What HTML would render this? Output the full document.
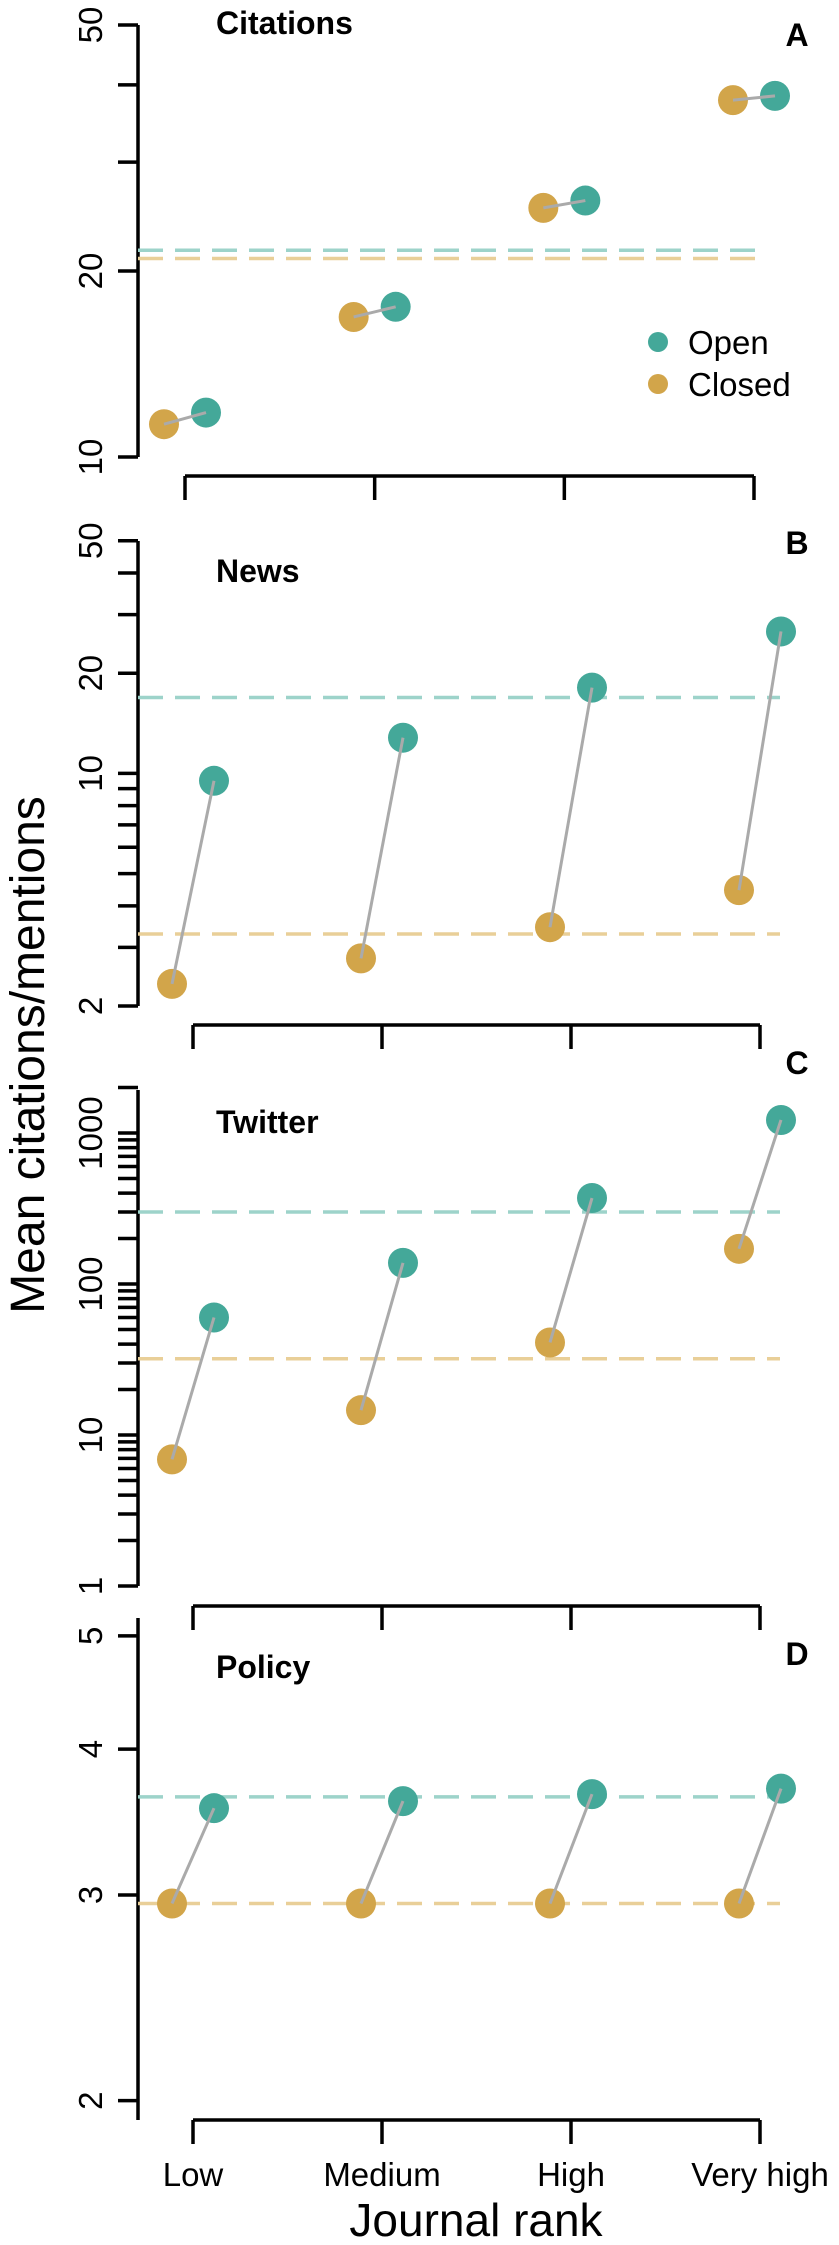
<!DOCTYPE html>
<html><head><meta charset="utf-8"><style>
html,body{margin:0;padding:0;background:#fff}
svg{display:block}
text{font-family:"Liberation Sans",Arial,sans-serif}
</style></head><body>
<svg id="chart" width="839" height="2245" viewBox="0 0 839 2245" xmlns="http://www.w3.org/2000/svg">
<text x="0" y="0" transform="translate(44,1055) rotate(-90)" text-anchor="middle" font-size="48">Mean citations/mentions</text>
<text x="476" y="2236" text-anchor="middle" font-size="46">Journal rank</text>
<g>
<circle cx="658" cy="342" r="10" fill="#44a899"/>
<text x="688" y="354" font-size="33">Open</text>
<circle cx="658" cy="384" r="10" fill="#d2a54a"/>
<text x="688" y="396" font-size="33">Closed</text>
</g>
</svg>
<script>
const categories = ["Low", "Medium", "High", "Very high"];
const citationsOpen = [11.8, 17.5, 26.0, 38.4];
const citationsClosed = [11.3, 16.85, 25.3, 37.8];
const citationsMean = [21.6, 20.95];
const newsOpen = [9.5, 12.8, 18.1, 26.7];
const newsClosed = [2.33, 2.78, 3.45, 4.46];
const newsMean = [16.9, 3.29];
const twitterOpen = [60, 138, 371, 1220];
const twitterClosed = [6.9, 14.6, 41, 171];
const twitterMean = [300, 32];
const policyOpen = [3.56, 3.61, 3.66, 3.70];
const policyClosed = [2.95, 2.95, 2.95, 2.95];
const policyMean = [3.64, 2.95];
const citationsTicks = [10, 20, 30, 40, 50];
const citationsLabels = [10, 20, 50];
const newsTicks = [2, 3, 4, 5, 6, 7, 8, 9, 10, 20, 30, 40, 50];
const newsLabels = [2, 10, 20, 50];
const twitterTicks = [1,2,3,4,5,6,7,8,9,10,20,30,40,50,60,70,80,90,100,200,300,400,500,600,700,800,900,1000,2000];
const twitterLabels = [1, 10, 100, 1000];
const policyTicks = [2, 3, 4, 5];
const policyLabels = [2, 3, 4, 5];

const NS = "http://www.w3.org/2000/svg";
const svg = document.getElementById("chart");
function mk(tag, attrs, parent) {
  const e = document.createElementNS(NS, tag);
  for (const k in attrs) e.setAttribute(k, attrs[k]);
  (parent || svg).appendChild(e);
  return e;
}
const panels = [
  {key:"citations", title:"Citations", letter:"A", open:citationsOpen, closed:citationsClosed, mean:citationsMean, ticks:citationsTicks, labels:citationsLabels,
   refV:10, refY:457, k:618, yTop:25, yBot:457, axX0:185, axX1:754, axY:476, titleY:34, letterY:46, dashEnd:765},
  {key:"news", title:"News", letter:"B", open:newsOpen, closed:newsClosed, mean:newsMean, ticks:newsTicks, labels:newsLabels,
   refV:2, refY:1006, k:332.8, yTop:541, yBot:1006, axX0:193, axX1:760, axY:1025, titleY:582, letterY:554, dashEnd:780},
  {key:"twitter", title:"Twitter", letter:"C", open:twitterOpen, closed:twitterClosed, mean:twitterMean, ticks:twitterTicks, labels:twitterLabels,
   refV:1, refY:1586, k:151, yTop:1090, yBot:1586, axX0:193, axX1:760, axY:1606, titleY:1133, letterY:1074, dashEnd:780},
  {key:"policy", title:"Policy", letter:"D", open:policyOpen, closed:policyClosed, mean:policyMean, ticks:policyTicks, labels:policyLabels,
   refV:3, refY:1895, k:1168, yTop:1618, yBot:2120, axX0:193, axX1:760, axY:2120, titleY:1678, letterY:1665, dashEnd:780}
];
panels.forEach(p => {
  const g = mk("g", {});
  
  
  const y = v => p.refY - Math.log10(v / p.refV) * p.k;
  const step = (p.axX1 - p.axX0) / (categories.length - 1);
  const x = i => p.axX0 + i * step;
  const ya = mk("line", {x1:138, x2:138, y1:p.yTop, y2:p.yBot, stroke:"#000", "stroke-width":3.5}, g);
  
  
  p.ticks.forEach(t => {
    const tl = mk("line", {x1:118, x2:138, y1:y(t), y2:y(t), stroke:"#000", "stroke-width":3.5}, g);
    
    
  });
  p.labels.forEach(t => {
    const tx = mk("text", {x:0, y:0, transform:"translate(102," + y(t) + ") rotate(-90)", "text-anchor":"middle", "font-size":33}, g);
    tx.textContent = t;
    
    
  });
  const xa = mk("line", {x1:p.axX0, x2:p.axX1, y1:p.axY, y2:p.axY, stroke:"#000", "stroke-width":3.5}, g);
  
  
  categories.forEach((c, i) => {
    const tl = mk("line", {x1:x(i), x2:x(i), y1:p.axY, y2:p.axY + 24, stroke:"#000", "stroke-width":3.5}, g);
    
    
    if (p.key === "policy") {
      const lb = mk("text", {x:x(i), y:2186, "text-anchor":"middle", "font-size":33}, g);
      lb.textContent = c;
      
      
    }
  });
  const dOpen = mk("line", {x1:138, x2:p.dashEnd, y1:y(p.mean[0]), y2:y(p.mean[0]), stroke:"#9dd3ca", "stroke-width":3.5, "stroke-dasharray":"25 12"}, g);
  
  
  const dClosed = mk("line", {x1:138, x2:p.dashEnd, y1:y(p.mean[1]), y2:y(p.mean[1]), stroke:"#e9cf98", "stroke-width":3.5, "stroke-dasharray":"25 12"}, g);
  
  
  categories.forEach((c, i) => {
    const cc = mk("circle", {cx:x(i) - 21, cy:y(p.closed[i]), r:15, fill:"#d2a54a"}, g);
    
    
    const co = mk("circle", {cx:x(i) + 21, cy:y(p.open[i]), r:15, fill:"#44a899"}, g);
    
    
    const ln = mk("line", {x1:x(i) - 21, y1:y(p.closed[i]), x2:x(i) + 21, y2:y(p.open[i]), stroke:"#aaaaaa", "stroke-width":3}, g);
    
    
  });
  const t = mk("text", {x:216, y:p.titleY, "font-size":32, "font-weight":"bold"}, g);
  t.textContent = p.title;
  
  
  const l = mk("text", {x:797, y:p.letterY, "text-anchor":"middle", "font-size":32, "font-weight":"bold"}, g);
  l.textContent = p.letter;
  
  
});
</script>
</body></html>
